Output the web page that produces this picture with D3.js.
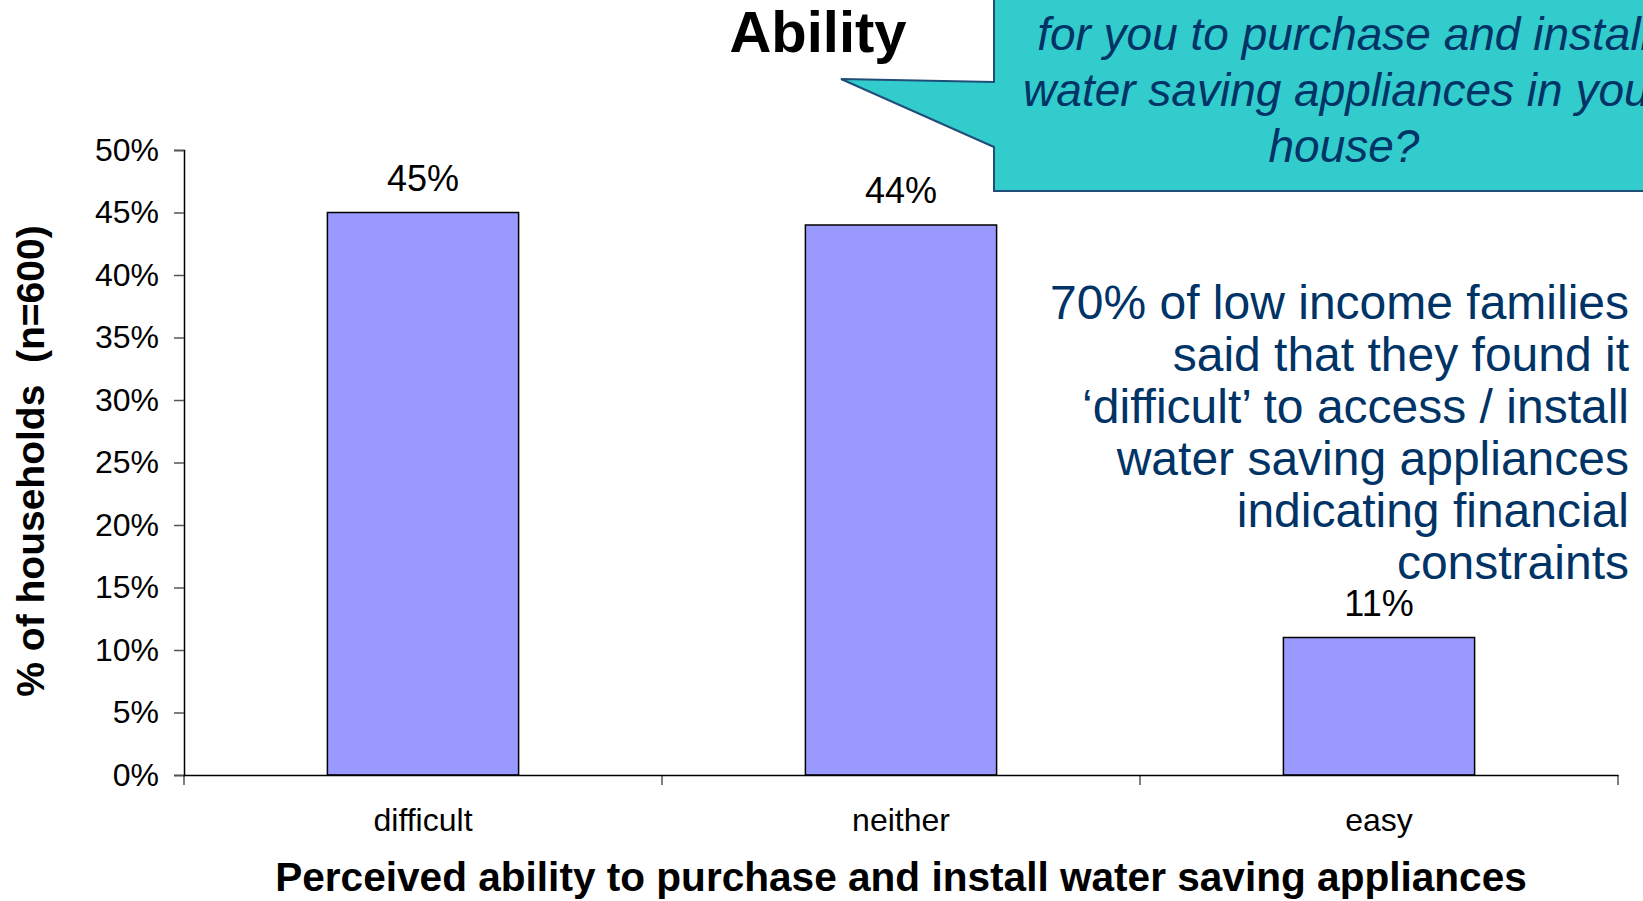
<!DOCTYPE html>
<html>
<head>
<meta charset="utf-8">
<script src="https://cdn.jsdelivr.net/npm/d3@7"></script>
<style>
  html, body { margin: 0; padding: 0; background: #ffffff; }
  svg { display: block; font-family: "Liberation Sans", Arial, sans-serif; }
</style>
</head>
<body>
<svg id="chart" width="1643" height="901"></svg>
<script>
// Survey results: perceived ability to purchase and install water saving appliances
const categories = ["difficult", "neither", "easy"];
const shares = [45, 44, 11];
const yTicks = [0, 5, 10, 15, 20, 25, 30, 35, 40, 45, 50];

const titleText = "Ability";
const calloutLines = [
  "for you to purchase and install",
  "water saving appliances in your",
  "house?"
];
const noteLines = [
  "70% of low income families",
  "said that they found it",
  "\u2018difficult\u2019 to access / install",
  "water saving appliances",
  "indicating financial",
  "constraints"
];
const yTitle = "% of households\u00a0 (n=600)";
const xTitle = "Perceived ability to purchase and install water saving appliances";

const svg = d3.select("#chart");

const plot = { left: 184, right: 1618, top: 150, bottom: 775 };

const x = d3.scaleBand()
  .domain(categories)
  .range([plot.left, plot.right])
  .paddingInner(0.6)
  .paddingOuter(0.3);

const y = d3.scaleLinear()
  .domain([0, 50])
  .range([plot.bottom, plot.top]);

// Bars
svg.append("g")
  .selectAll("rect")
  .data(categories)
  .join("rect")
  .attr("x", d => x(d))
  .attr("y", (d, i) => y(shares[i]))
  .attr("width", x.bandwidth())
  .attr("height", (d, i) => y(0) - y(shares[i]))
  .attr("fill", "#9999ff")
  .attr("stroke", "#000000")
  .attr("stroke-width", 1.5);

// Value labels
svg.append("g")
  .selectAll("text")
  .data(categories)
  .join("text")
  .attr("x", d => x(d) + x.bandwidth() / 2)
  .attr("y", (d, i) => y(shares[i]) - 22)
  .attr("text-anchor", "middle")
  .attr("font-size", 36)
  .attr("fill", "#000000")
  .text((d, i) => shares[i] + "%");

// Y axis
const yAxis = svg.append("g")
  .attr("transform", `translate(${plot.left},0)`)
  .call(d3.axisLeft(y).tickValues(yTicks).tickFormat(d => d + "%").tickSize(10).tickPadding(15));
yAxis.select(".domain").attr("stroke", "#000000").attr("stroke-width", 1.5);
yAxis.selectAll(".tick line").attr("stroke", "#555555").attr("stroke-width", 1.5);
yAxis.selectAll(".tick text")
  .attr("font-size", 32)
  .attr("font-family", "'Liberation Sans', Arial, sans-serif")
  .attr("fill", "#000000");

// X axis with category labels and boundary ticks
const xAxis = svg.append("g")
  .attr("transform", `translate(0,${plot.bottom})`)
  .call(d3.axisBottom(x).tickSize(0).tickPadding(33));
xAxis.select(".domain").attr("stroke", "#000000").attr("stroke-width", 1.5);
xAxis.selectAll(".tick text")
  .attr("font-size", 32)
  .attr("font-family", "'Liberation Sans', Arial, sans-serif")
  .attr("fill", "#000000");

const boundaries = categories.map(c => x(c) - x.step() * x.paddingOuter())
  .concat([x(categories[categories.length - 1]) + x.bandwidth() + x.step() * x.paddingOuter()]);
svg.append("g")
  .selectAll("line")
  .data(boundaries)
  .join("line")
  .attr("x1", d => d).attr("x2", d => d)
  .attr("y1", plot.bottom).attr("y2", plot.bottom + 10)
  .attr("stroke", "#000000")
  .attr("stroke-width", 1);

// Axis titles
svg.append("text")
  .attr("transform", `translate(44,461) rotate(-90)`)
  .attr("text-anchor", "middle")
  .attr("font-size", 39)
  .attr("font-weight", "bold")
  .attr("fill", "#000000")
  .text(yTitle);

svg.append("text")
  .attr("x", 901)
  .attr("y", 891)
  .attr("text-anchor", "middle")
  .attr("font-size", 40.6)
  .attr("font-weight", "bold")
  .attr("fill", "#000000")
  .text(xTitle);

// Title
svg.append("text")
  .attr("x", 818)
  .attr("y", 52)
  .attr("text-anchor", "middle")
  .attr("font-size", 58)
  .attr("font-weight", "bold")
  .attr("fill", "#000000")
  .text(titleText);

// Speech-bubble callout with the survey question
const bubble = d3.path();
bubble.moveTo(994, -10);
bubble.lineTo(994, 82);
bubble.lineTo(841, 79);
bubble.lineTo(994, 147);
bubble.lineTo(994, 191);
bubble.lineTo(1700, 191);
bubble.lineTo(1700, -10);
bubble.closePath();
svg.append("path")
  .attr("d", bubble.toString())
  .attr("fill", "#33cccc")
  .attr("stroke", "#1f4e79")
  .attr("stroke-width", 2);

svg.append("g")
  .selectAll("text")
  .data(calloutLines)
  .join("text")
  .attr("x", 1344)
  .attr("y", (d, i) => 50 + i * 56)
  .attr("text-anchor", "middle")
  .attr("font-size", 46)
  .attr("font-style", "italic")
  .attr("fill", "#003366")
  .text(d => d);

// Annotation
svg.append("g")
  .selectAll("text")
  .data(noteLines)
  .join("text")
  .attr("x", 1629)
  .attr("y", (d, i) => 319 + i * 52)
  .attr("text-anchor", "end")
  .attr("font-size", 48)
  .attr("fill", "#003366")
  .text(d => d);
</script>
</body>
</html>
